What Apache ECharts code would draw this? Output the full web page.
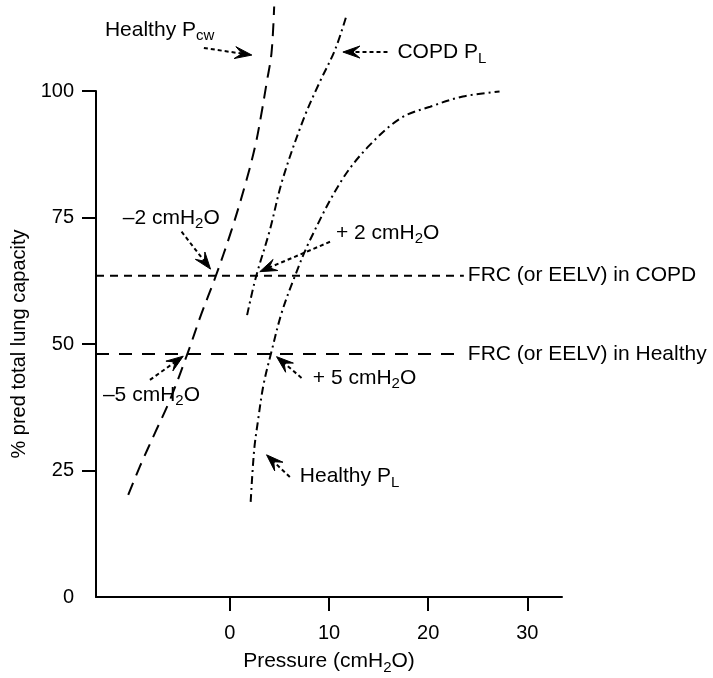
<!DOCTYPE html>
<html>
<head>
<meta charset="utf-8">
<script src="https://cdn.jsdelivr.net/npm/echarts@6/dist/echarts.min.js"></script>
<style>
  html, body { margin: 0; padding: 0; background: #fff; }
  #chart { width: 713px; height: 678px; }
</style>
</head>
<body>
<div id="chart"></div>
<script>
// Pressure–volume relationships: x = pressure (cmH2O), y = % predicted total lung capacity
const healthyPcw = [[-10.25, 20.2], [-9.07, 25.8], [-7.56, 32.4], [-6.05, 38.9], [-4.2, 48.5],
  [-2.9, 55.8], [-1.5, 63.0], [0.17, 72.5], [1.68, 82.4], [2.6, 89.5], [3.2, 95.7],
  [3.7, 101.5], [4.2, 107.5], [4.47, 116.7]];
const copdPl = [[1.74, 55.7], [2.6, 63.0], [4.03, 72.5], [5.3, 82.4], [7.4, 94.3],
  [9.0, 101.5], [10.6, 108.1], [11.7, 114.5]];
const healthyPl = [[2.1, 18.8], [2.45, 29.0], [2.85, 35.0], [3.4, 42.0], [4.2, 48.5],
  [5.2, 56.0], [6.4, 62.6], [8.1, 70.6], [11.3, 82.4], [14.1, 89.3], [17.3, 94.7],
  [20.2, 96.9], [23.5, 98.9], [27.2, 99.9]];

// Functional residual capacity levels (% pred TLC)
const frcCopd = 63.5;
const frcHealthy = 48;
const frcRange = [-13.5, 23.6];
const frcLabels = ['FRC (or EELV) in COPD', 'FRC (or EELV) in Healthy'];

// Axes
const xRange = [-13.5, 33.5];
const yRange = [0, 100];
const xTickValues = [0, 10, 20, 30];
const yLabelValues = [0, 25, 50, 75, 100];
const yTickValues = [25, 50, 75, 100];
const xTitle = ['Pressure (cmH', '2', 'O)'];
const yTitle = '% pred total lung capacity';

// Annotation texts: alternating normal / subscript parts
const noteTexts = [
  ['Healthy P', 'cw'],
  ['COPD P', 'L'],
  ['\u20132 cmH', '2', 'O'],
  ['+ 2 cmH', '2', 'O'],
  ['\u20135 cmH', '2', 'O'],
  ['+ 5 cmH', '2', 'O'],
  ['Healthy P', 'L']
];
// Left/middle anchor of each annotation, in data units
const noteAnchors = [
  [-12.6, 112.1], [16.9, 107.6], [-10.8, 74.9], [10.7, 71.9],
  [-12.8, 39.9], [8.37, 43.3], [7.06, 23.8]
];
// Pointer arrows: tail -> tip, in data units
const pointerArrows = [
  [[-2.62, 108.5], [2.22, 107.1]],
  [[15.9, 107.7], [11.4, 107.7]],
  [[-4.87, 72.2], [-1.95, 64.8]],
  [[10.1, 70.2], [3.02, 64.3]],
  [[-8.06, 42.9], [-4.7, 47.6]],
  [[7.23, 43.3], [4.71, 47.5]],
  [[6.05, 23.7], [3.7, 28.1]]
];

const FONT = "'Liberation Sans', Arial, Helvetica, sans-serif";
const INK = '#000';

const rich = {
  m: { fontSize: 21, fontFamily: FONT, color: INK, lineHeight: 24 },
  s: { fontSize: 15, fontFamily: FONT, color: INK, lineHeight: 15, padding: [12, 0, 0, 0] }
};
function richText(parts) {
  return parts.map((p, i) => '{' + (i % 2 ? 's' : 'm') + '|' + p + '}').join('');
}

const chart = echarts.init(document.getElementById('chart'), null, { renderer: 'canvas' });

const curveLine = (data, dash) => ({
  type: 'line',
  data: data,
  smooth: 0.35,
  symbol: 'none',
  clip: false,
  silent: true,
  lineStyle: { color: INK, width: 2, type: dash }
});

const frcLine = (level, dash, text) => ({
  type: 'line',
  data: [[frcRange[0], level], [frcRange[1], level]],
  symbol: 'none',
  silent: true,
  lineStyle: { color: INK, width: 2, type: dash },
  endLabel: {
    show: true,
    formatter: text,
    distance: 4,
    color: INK,
    fontSize: 21,
    fontFamily: FONT
  }
});

const option = {
  animation: false,
  backgroundColor: '#fff',
  grid: { left: 96, right: 151, top: 91, bottom: 81, containLabel: false, outerBoundsMode: 'none' },
  xAxis: {
    type: 'value',
    min: xRange[0],
    max: xRange[1],
    axisLine: { show: true, onZero: false, lineStyle: { color: INK, width: 2 } },
    axisTick: { show: true, length: 14, customValues: xTickValues, lineStyle: { color: INK, width: 2 } },
    axisLabel: { customValues: xTickValues, margin: 26, color: INK, fontSize: 20, fontFamily: FONT },
    splitLine: { show: false },
    name: richText(xTitle),
    nameLocation: 'middle',
    nameGap: 52,
    nameTextStyle: { rich: rich }
  },
  yAxis: {
    type: 'value',
    min: yRange[0],
    max: yRange[1],
    axisLine: { show: true, onZero: false, lineStyle: { color: INK, width: 2 } },
    axisTick: { show: true, length: 14, customValues: yTickValues, lineStyle: { color: INK, width: 2 } },
    axisLabel: { customValues: yLabelValues, margin: 22, color: INK, fontSize: 20, fontFamily: FONT },
    splitLine: { show: false },
    name: yTitle,
    nameLocation: 'middle',
    nameGap: 64,
    nameTextStyle: { color: INK, fontSize: 20, fontFamily: FONT }
  },
  series: [
    curveLine(healthyPcw, [13, 8]),
    curveLine(copdPl, [8, 4, 2, 4]),
    curveLine(healthyPl, [8, 4, 2, 4]),
    frcLine(frcCopd, [8, 6], frcLabels[0]),
    frcLine(frcHealthy, [13, 10], frcLabels[1]),
    {
      type: 'custom',
      coordinateSystem: 'cartesian2d',
      clip: false,
      silent: true,
      data: pointerArrows.map(a => [a[0][0], a[0][1], a[1][0], a[1][1]]),
      encode: { x: [0, 2], y: [1, 3] },
      renderItem: function (params, api) {
        const p0 = api.coord([api.value(0), api.value(1)]);
        const p1 = api.coord([api.value(2), api.value(3)]);
        const dx = p1[0] - p0[0], dy = p1[1] - p0[1];
        const len = Math.sqrt(dx * dx + dy * dy);
        const ux = dx / len, uy = dy / len;
        const nx = -uy, ny = ux;
        const L = 17, W = 6, notch = 10;
        const back = [p1[0] - ux * L, p1[1] - uy * L];
        const mid = [p1[0] - ux * notch, p1[1] - uy * notch];
        return {
          type: 'group',
          children: [
            {
              type: 'line',
              shape: { x1: p0[0], y1: p0[1], x2: mid[0], y2: mid[1] },
              style: { stroke: INK, lineWidth: 2, lineDash: [4, 3], fill: null }
            },
            {
              type: 'polygon',
              shape: {
                points: [
                  p1,
                  [back[0] + nx * W, back[1] + ny * W],
                  mid,
                  [back[0] - nx * W, back[1] - ny * W]
                ]
              },
              style: { fill: INK, stroke: INK, lineWidth: 1 }
            }
          ]
        };
      }
    },
    {
      type: 'custom',
      coordinateSystem: 'cartesian2d',
      clip: false,
      silent: true,
      data: noteAnchors.map((a, i) => [a[0], a[1], i]),
      encode: { x: 0, y: 1 },
      renderItem: function (params, api) {
        const p = api.coord([api.value(0), api.value(1)]);
        const idx = api.value(2);
        return {
          type: 'text',
          style: {
            x: p[0],
            y: p[1],
            text: richText(noteTexts[idx]),
            rich: rich,
            fill: INK,
            align: 'left',
            verticalAlign: 'middle'
          }
        };
      }
    }
  ]
};

chart.setOption(option);
</script>
</body>
</html>
